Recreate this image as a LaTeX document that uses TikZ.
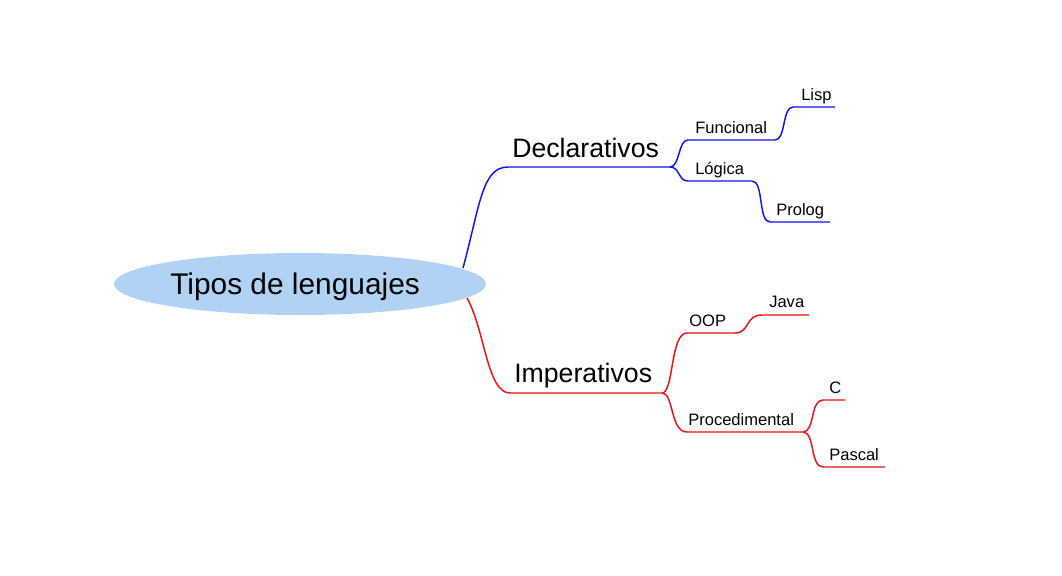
\documentclass[tikz,border=0pt]{standalone}
\usepackage{fontspec}
\setmainfont{Liberation Sans}
\usetikzlibrary{shapes.geometric}
\definecolor{ellfill}{HTML}{B0D3F5}
\definecolor{bl}{HTML}{1010F0}
\definecolor{rd}{HTML}{F01010}
\begin{document}
\begin{tikzpicture}[x=0.75pt,y=-0.75pt,
  lbl/.style={anchor=base west,inner sep=0pt,text=black},
  big/.style={lbl,font=\fontsize{20}{22}\selectfont},
  small/.style={lbl,font=\fontsize{12.4}{14}\selectfont},
  conb/.style={draw=bl,line width=1.1pt},
  conr/.style={draw=rd,line width=1.1pt}]
\useasboundingbox (0,0) rectangle (1062,575);
% root
\node[ellipse,fill=ellfill,draw=none,minimum width=372*0.75pt,minimum height=62*0.75pt,inner sep=0pt] (root) at (300,284) {};
\node[lbl,font=\fontsize{22.4}{24}\selectfont] (roott) at (170,294) {Tipos de lenguajes};
% coordinates
\coordinate (rb) at (463,268);
\coordinate (rr) at (467,298);
\coordinate (d0) at (508,167); \coordinate (d1) at (670,167);
\coordinate (f0) at (688,140); \coordinate (f1) at (775,140);
\coordinate (li0) at (793,107); \coordinate (li1) at (835,107);
\coordinate (lo0) at (688,181); \coordinate (lo1) at (752,181);
\coordinate (p0) at (770,222); \coordinate (p1) at (830,222);
\coordinate (i0) at (510,393); \coordinate (i1) at (662,393);
\coordinate (o0) at (687,333); \coordinate (o1) at (735,333);
\coordinate (j0) at (762,315); \coordinate (j1) at (809,315);
\coordinate (pr0) at (687,432); \coordinate (pr1) at (803,432);
\coordinate (c0) at (823,400); \coordinate (c1) at (845,400);
\coordinate (pa0) at (823,467); \coordinate (pa1) at (885,467);
% labels
\node[big] (decl) at (512,157) {Declarativos};
\node[big] (imp) at (514,382) {Imperativos};
\node[small] (fun) at (695,133) {Funcional};
\node[small] (log) at (695,174) {Lógica};
\node[small] (lisp) at (801,100) {Lisp};
\node[small] (prolog) at (776,215) {Prolog};
\node[small] (oop) at (689,326) {OOP};
\node[small] (java) at (769,307) {Java};
\node[small] (cc) at (829,393) {C};
\node[small] (proc) at (688,425) {Procedimental};
\node[small] (pascal) at (829,460) {Pascal};
% blue connectors
\draw[conb] (rb) .. controls (480,205) and (482,167) .. (d0) -- (d1);
\draw[conb] (d1) .. controls (680,167) and (678,140) .. (f0) -- (f1);
\draw[conb] (f1) .. controls (786,140) and (782,107) .. (li0) -- (li1);
\draw[conb] (d1) .. controls (680,167) and (678,181) .. (lo0) -- (lo1);
\draw[conb] (lo1) .. controls (764,181) and (758,222) .. (p0) -- (p1);
% red connectors
\draw[conr] (rr) .. controls (485,330) and (487,393) .. (i0) -- (i1);
\draw[conr] (i1) .. controls (674,393) and (670,333) .. (o0) -- (o1);
\draw[conr] (o1) .. controls (750,333) and (745,315) .. (j0) -- (j1);
\draw[conr] (i1) .. controls (674,393) and (670,432) .. (pr0) -- (pr1);
\draw[conr] (pr1) .. controls (815,432) and (810,400) .. (c0) -- (c1);
\draw[conr] (pr1) .. controls (815,432) and (810,467) .. (pa0) -- (pa1);
\end{tikzpicture}
\end{document}
